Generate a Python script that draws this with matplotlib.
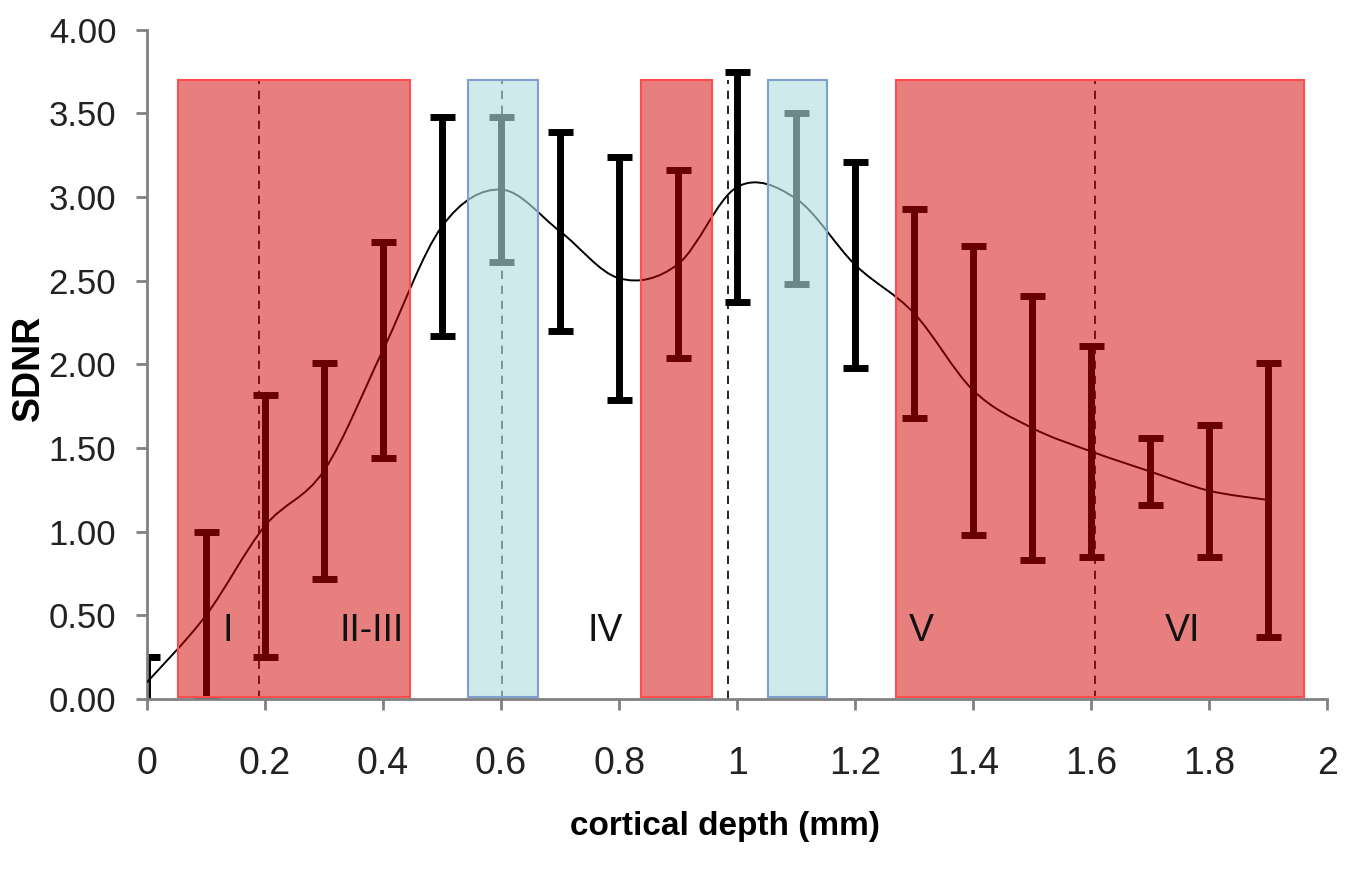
#!/usr/bin/env python
# -*- coding: utf-8 -*-

import matplotlib
matplotlib.use('Agg')
import matplotlib.pyplot as plt
from matplotlib.path import Path
from matplotlib.patches import PathPatch, Rectangle

# cortical depth (mm) and SDNR mean / half error
depth = [0.0, 0.1, 0.2, 0.3, 0.4, 0.5, 0.6, 0.7, 0.8, 0.9,
         1.0, 1.1, 1.2, 1.3, 1.4, 1.5, 1.6, 1.7, 1.8, 1.9]
sdnr = [0.10, 0.50, 1.035, 1.365, 2.085, 2.825, 3.045, 2.795, 2.515, 2.60,
        3.06, 2.99, 2.595, 2.305, 1.845, 1.62, 1.48, 1.36, 1.245, 1.19]
sdnr_err = [0.15, 0.50, 0.785, 0.645, 0.645, 0.655, 0.435, 0.595, 0.725, 0.56,
            0.685, 0.51, 0.615, 0.625, 0.865, 0.79, 0.63, 0.20, 0.395, 0.82]

# layer bands (start, end) in mm
red_bands = [(0.053, 0.445), (0.837, 0.957), (1.27, 1.961)]
blue_bands = [(0.544, 0.662), (1.053, 1.153)]
band_top = 3.70
boundaries = [0.19, 0.601, 0.985, 1.607]

layer_names = ['I', 'II-III', 'IV', 'V', 'VI']
layer_pos = [0.137, 0.381, 0.776, 1.312, 1.754]
layer_y = 0.41

plt.rcParams['font.family'] = ['Liberation Sans Narrow', 'Liberation Sans', 'DejaVu Sans']


def smooth_path(x, y):
	# excel-like smoothed line: catmull-rom segments as cubic beziers
	verts = [(x[0], y[0])]
	codes = [Path.MOVETO]
	n = len(x)
	for i in range(n - 1):
		x0, y0 = (x[i - 1], y[i - 1]) if i > 0 else (x[i], y[i])
		x3, y3 = (x[i + 2], y[i + 2]) if i + 2 < n else (x[i + 1], y[i + 1])
		c1 = (x[i] + (x[i + 1] - x0) / 6.0, y[i] + (y[i + 1] - y0) / 6.0)
		c2 = (x[i + 1] - (x3 - x[i]) / 6.0, y[i + 1] - (y3 - y[i]) / 6.0)
		verts += [c1, c2, (x[i + 1], y[i + 1])]
		codes += [Path.CURVE4] * 3
	return Path(verts, codes)


def plot_sdnr(out_file=None):
	fig = plt.figure(figsize=(13.6, 8.75), dpi=100)
	ax = fig.add_axes([0.108, 0.201, 0.868, 0.765])

	ax.errorbar(depth, sdnr, yerr=sdnr_err, fmt='none', ecolor='black',
				elinewidth=5, capsize=9, capthick=5, zorder=2)
	ax.add_patch(PathPatch(smooth_path(depth, sdnr), fill=False,
						   edgecolor='black', linewidth=1.4, zorder=3))

	for b in boundaries:
		ax.plot([b, b], [0, band_top], color='black', linestyle=(0, (5, 4)),
				linewidth=1.2, zorder=1)

	for x0, x1 in red_bands:
		ax.add_patch(Rectangle((x0, 0.01), x1 - x0, band_top - 0.01,
							   facecolor=(0.82, 0.0, 0.0, 0.5),
							   edgecolor=(1.0, 0.3, 0.3), linewidth=1.5, zorder=4))
	for x0, x1 in blue_bands:
		ax.add_patch(Rectangle((x0, 0.01), x1 - x0, band_top - 0.01,
							   facecolor=(0.69, 0.87, 0.88, 0.62),
							   edgecolor='#7f9fcf', linewidth=1.5, zorder=4))

	for name, xp in zip(layer_names, layer_pos):
		ax.text(xp, layer_y, name, ha='center', va='center', fontsize=27,
				color='#111111', zorder=5)

	ax.set_xlim(0, 2)
	ax.set_ylim(0, 4)
	ax.set_xticks([i * 0.2 for i in range(11)])
	ax.set_xticklabels(['0', '0.2', '0.4', '0.6', '0.8', '1', '1.2', '1.4',
						'1.6', '1.8', '2'])
	ax.set_yticks([i * 0.5 for i in range(9)])
	ax.set_yticklabels(['%.2f' % (i * 0.5) for i in range(9)])

	for side in ['top', 'right']:
		ax.spines[side].set_visible(False)
	for side in ['left', 'bottom']:
		ax.spines[side].set_color('#808080')
		ax.spines[side].set_linewidth(2)
	ax.tick_params(axis='both', direction='out', color='#808080', width=2,
				   length=8, labelcolor='#222222')
	ax.tick_params(axis='y', labelsize=25, pad=14)
	ax.tick_params(axis='x', labelsize=27, pad=26)

	fig.text(0.533, 0.055, 'cortical depth (mm)', ha='center', va='center',
			 fontsize=24, fontweight='bold', family=['Liberation Sans', 'DejaVu Sans'])
	fig.text(0.021, 0.58, 'SDNR', ha='center', va='center', rotation=90,
			 fontsize=27, fontweight='bold', family=['Liberation Sans', 'DejaVu Sans'])

	if out_file:
		fig.savefig(out_file, dpi=100)
	else:
		plt.show()


def main():
	plot_sdnr('out.png')


if __name__ == '__main__':
	main()
